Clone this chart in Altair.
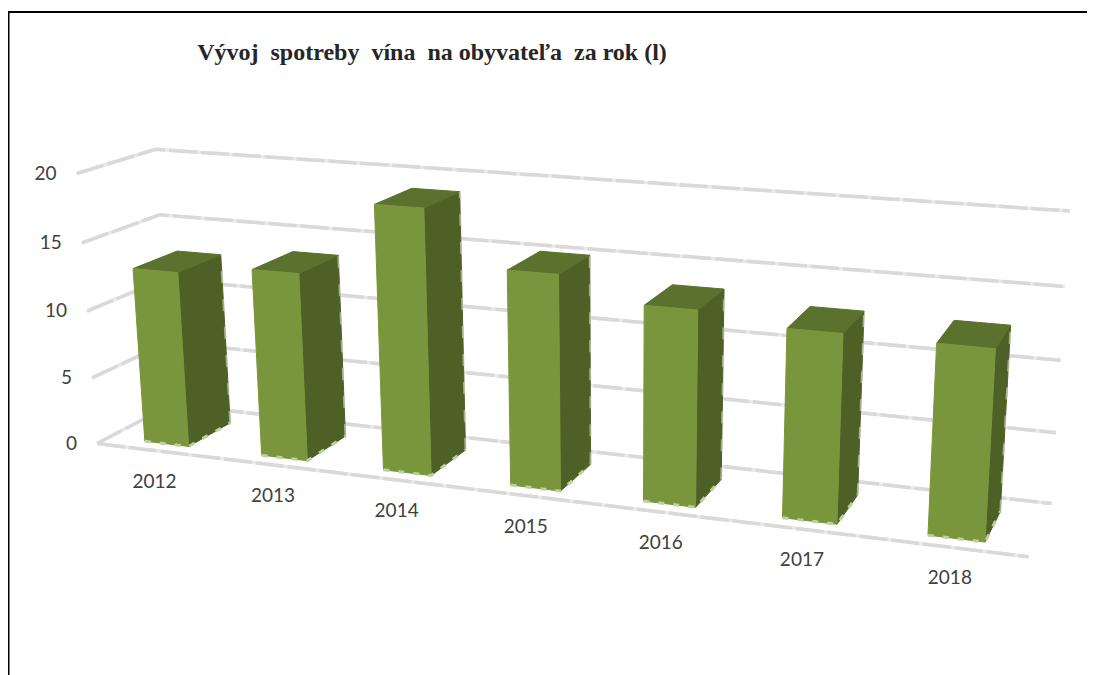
import altair as alt
import numpy as np
import pandas as pd

years = ["2012", "2013", "2014", "2015", "2016", "2017", "2018"]
values = [13.0, 13.7, 19.0, 15.2, 13.6, 12.9, 12.8]
ticks = [0, 5, 10, 15, 20]
title_text = "Vývoj\u00a0 spotreby\u00a0 vína\u00a0 na obyvateľa\u00a0 za rok (l)"

HALF = 0.19 / 7      # half bar width, as a fraction of the category axis
D0, D1 = 0.16, 0.74  # bar extent along the depth axis


def centre(i):
    return (i + 0.5) / 7


# camera calibration: (category fraction, value, depth) -> page pixel
calib = [
    ((0, 20, 0), (80, 172)), ((0, 15, 0), (84, 242)), ((0, 10, 0), (86, 312)),
    ((0, 5, 0), (90, 381)), ((0, 0, 0), (96, 444)),
    ((0, 20, 1), (150, 150)), ((0, 15, 1), (157, 217)), ((0, 0, 1), (176, 400)),
    ((1, 20, 1), (1070, 209)), ((1, 15, 1), (1065, 285)), ((1, 10, 1), (1059, 360)),
    ((1, 5, 1), (1056, 435)), ((1, 0, 1), (1050, 507)), ((1, 0, 0), (1030, 555)),
]
anchor_bars = {
    0: [(135, 268), (143, 441), (187, 447), (232, 421), (225, 254)],
    3: [(507, 270), (508, 486), (560, 492), (591, 467), (591, 256)],
    6: [(935, 343), (926, 534), (987, 541), (1002, 508), (1012, 328)],
}
for i, pts in anchor_bars.items():
    l, r, val = centre(i) - HALF, centre(i) + HALF, values[i]
    model = [(l, val, D0), (l, 0, D0), (r, 0, D0), (r, 0, D1), (r, val, D1)]
    calib += list(zip(model, pts))

A = []
for (u, v, d), (px, py) in calib:
    A.append([u, v, d, 1, 0, 0, 0, 0, -px * u, -px * v, -px * d, -px])
    A.append([0, 0, 0, 0, u, v, d, 1, -py * u, -py * v, -py * d, -py])
P = np.linalg.svd(np.array(A, dtype=float))[2][-1].reshape(3, 4)


def project(u, v, d):
    h = P @ np.array([u, v, d, 1.0])
    return float(h[0] / h[2]), float(h[1] / h[2])


def poly_rows(pid, pts, close=True):
    seq = pts + pts[:1] if close else pts
    rows = []
    for i, (u, v, d) in enumerate(seq):
        x, y = project(u, v, d)
        rows.append({"id": pid, "ord": i, "x": x, "y": y})
    return rows


front, side, top, base, edge, grid = [], [], [], [], [], []
for i, val in enumerate(values):
    l, r = centre(i) - HALF, centre(i) + HALF
    front += poly_rows(f"f{i}", [(l, 0, D0), (r, 0, D0), (r, val, D0), (l, val, D0)])
    side += poly_rows(f"s{i}", [(r, 0, D0), (r, 0, D1), (r, val, D1), (r, val, D0)])
    top += poly_rows(f"t{i}", [(l, val, D0), (r, val, D0), (r, val, D1), (l, val, D1)])
    base += poly_rows(f"b{i}", [(l, 0, D0), (r, 0, D0), (r, 0, D1)], close=False)
    edge += poly_rows(f"e{i}", [(r, 0, D1), (r, val, D1)], close=False)

for t in ticks:
    grid += poly_rows(f"g{t}", [(0, t, 0), (0, t, 1), (1, t, 1)], close=False)
grid += poly_rows("floor", [(0, 0, 0), (1, 0, 0)], close=False)

frame = [
    {"id": "frame", "ord": 0, "x": 8.5, "y": 675},
    {"id": "frame", "ord": 1, "x": 8.5, "y": 12},
    {"id": "frame", "ord": 2, "x": 1087, "y": 12},
]

tick_rows = []
for t in ticks:
    x, y = project(0, t, 0)
    tick_rows.append({"x": x - 20, "y": y, "t": str(t)})
year_rows = []
for i, yr in enumerate(years):
    x, y = project(centre(i), 0, D0 - 0.12)
    year_rows.append({"x": x - 3, "y": y + 33, "t": yr})

X = alt.X("x:Q", scale=alt.Scale(domain=[8, 1087], range=[0, 1079], nice=False, zero=False), axis=None)
Y = alt.Y("y:Q", scale=alt.Scale(domain=[8, 675], range=[0, 667], nice=False, zero=False), axis=None)


def lines(rows, **kw):
    return alt.Chart(pd.DataFrame(rows)).mark_line(**kw).encode(
        x=X, y=Y, detail="id:N", order="ord:Q"
    )


def texts(rows, **kw):
    return alt.Chart(pd.DataFrame(rows)).mark_text(**kw).encode(x=X, y=Y, text="t:N")


chart = alt.layer(
    lines(frame, color="#000000", strokeWidth=2, strokeCap="butt"),
    lines(grid, color="#e8e8e8", strokeWidth=3.5),
    lines(grid, color="#d9d9d9", strokeWidth=3.5, strokeDash=[28, 4]),
    lines(side, color="#4d6026", fill="#4d6026", strokeWidth=1),
    lines(top, color="#5a722d", fill="#5a722d", strokeWidth=1),
    lines(front, color="#7a963c", fill="#7a963c", strokeWidth=1),
    lines(edge, color="#c3ccae", strokeWidth=2, strokeDash=[12, 16], opacity=0.7),
    lines(base, color="#bfd19b", strokeWidth=3, strokeDash=[6, 9]),
    texts(tick_rows, align="right", baseline="middle", font="Lato", fontSize=19, color="#404040"),
    texts(year_rows, align="center", baseline="middle", font="Lato", fontSize=19, color="#404040"),
    texts([{"x": 432, "y": 53, "t": title_text}], align="center", baseline="middle",
          font="Liberation Serif", fontWeight="bold", fontSize=24, color="#262626"),
).properties(
    width=1079, height=667, padding=0,
    autosize=alt.AutoSizeParams(type="none"),
).configure_view(stroke=None)

chart.save("out.html", embed_options={"renderer": "svg", "actions": False})
